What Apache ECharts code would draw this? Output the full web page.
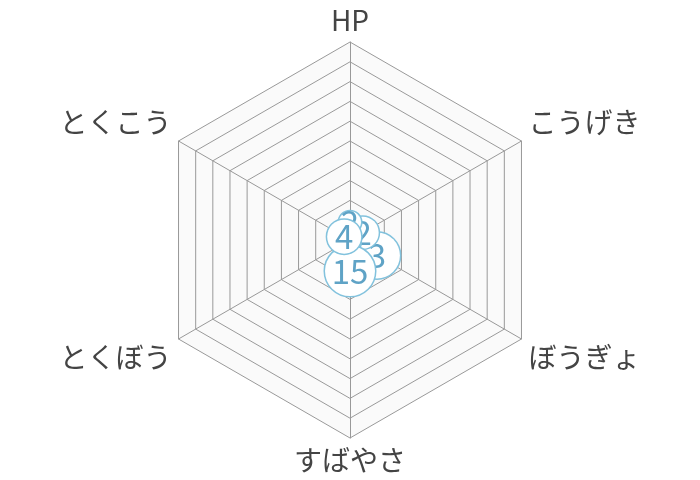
<!DOCTYPE html>
<html>
<head>
<meta charset="utf-8">
<script src="https://cdn.jsdelivr.net/npm/echarts@6/dist/echarts.min.js"></script>
<style>
  html, body { margin: 0; padding: 0; background: #fff; }
  #chart { width: 700px; height: 480px; }
</style>
</head>
<body>
<div id="chart"></div>
<script>
// 能力の名前と値 (ぼうぎょ から反時計回り)
var statNames = ['ぼうぎょ', 'こうげき', 'HP', 'とくこう', 'とくぼう', 'すばやさ'];
var statMax = 100;
var statValues = [15.7, 7.4, 9, 3.4, 2, 15.7];
var rankLabels = ['3', '2', '2', '4', '6', '15'];

// 丸の大きさ (見た目だけ)
var circleSizes = [46, 32, 22, 34, 28, 50];
// 名前の上下のずらし
var nameShift = { 'こうげき': 'up', 'とくこう': 'up', 'ぼうぎょ': 'down', 'とくぼう': 'down' };

var rich = {};
circleSizes.forEach(function (s, i) {
    rich['c' + i] = {
        width: s,
        height: s,
        lineHeight: s,
        align: 'center',
        verticalAlign: 'middle',
        borderRadius: s / 2 + 1,
        backgroundColor: '#fff',
        borderColor: '#82c2dd',
        borderWidth: 1.5,
        color: '#5fa3c6',
        fontSize: 33,
        fontFamily: 'Noto Sans CJK JP'
    };
});

function rankLabel(show) {
    return {
        show: true,
        position: 'inside',
        formatter: function (p) {
            var i = p.dimensionIndex;
            if (!show(i)) return '';
            return '{c' + i + '|' + rankLabels[i] + '}';
        },
        rich: rich
    };
}

var myChart = echarts.init(document.getElementById('chart'));

var option = {
    animation: false,
    radar: {
        center: ['50%', 240],
        radius: 198,
        startAngle: -30,
        splitNumber: 10,
        shape: 'polygon',
        indicator: statNames.map(function (n) { return { name: n, max: statMax }; }),
        axisName: {
            color: '#444',
            fontSize: 28,
            fontFamily: 'Noto Sans CJK JP',
            formatter: function (name) {
                var k = nameShift[name] || 'n';
                return '{' + k + '|' + name + '}';
            },
            rich: {
                n: { fontSize: 28, color: '#444', fontFamily: 'Noto Sans CJK JP' },
                up: { fontSize: 28, color: '#444', fontFamily: 'Noto Sans CJK JP', padding: [0, 0, 30, 0] },
                down: { fontSize: 28, color: '#444', fontFamily: 'Noto Sans CJK JP', padding: [28, 0, 0, 0] }
            }
        },
        nameGap: 8,
        axisLine: { lineStyle: { color: '#999', width: 1 } },
        splitLine: { lineStyle: { color: '#999', width: 1 } },
        splitArea: { areaStyle: { color: ['#fafafa', '#fafafa'] } }
    },
    series: [
        {
            name: 'ランク',
            type: 'radar',
            symbol: 'circle',
            symbolSize: 1,
            lineStyle: { width: 0, opacity: 0 },
            itemStyle: { color: 'rgba(0,0,0,0)' },
            label: rankLabel(function (i) { return statNames[i] !== 'とくこう'; }),
            data: [{ value: statValues, name: 'ランク' }]
        },
        {
            // とくこう の丸をいちばん上に重ねる
            name: 'ランク上',
            type: 'radar',
            symbol: 'circle',
            symbolSize: 1,
            lineStyle: { width: 0, opacity: 0 },
            itemStyle: { color: 'rgba(0,0,0,0)' },
            label: rankLabel(function (i) { return statNames[i] === 'とくこう'; }),
            data: [{ value: statValues, name: 'ランク上' }]
        }
    ]
};

myChart.setOption(option);
</script>
</body>
</html>
